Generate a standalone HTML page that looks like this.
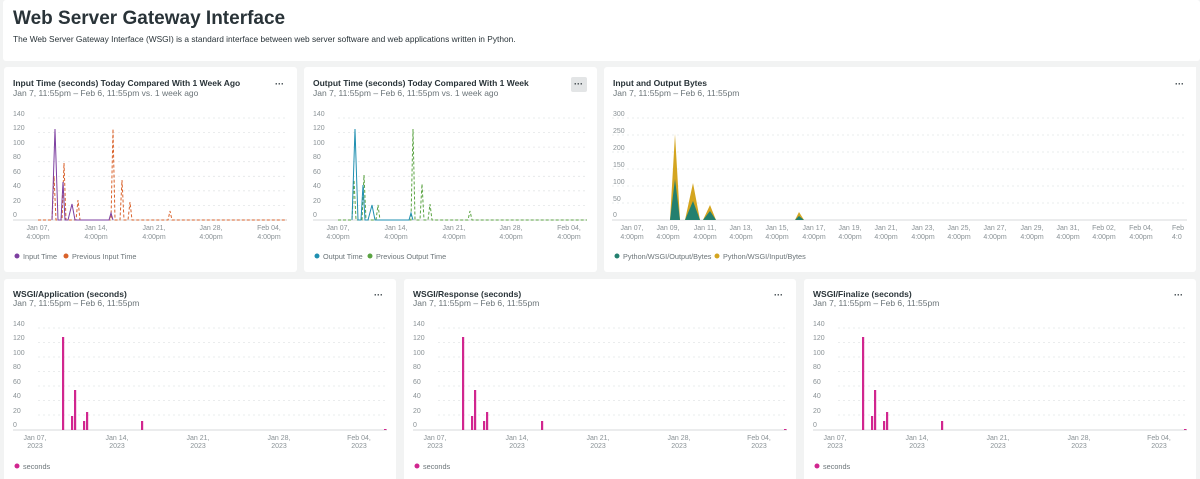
<!DOCTYPE html>
<html><head><meta charset="utf-8"><style>
body{margin:0;width:1200px;height:479px;overflow:hidden;background:#f2f3f3;font-family:"Liberation Sans",sans-serif}
svg{display:block}
.t{font-size:8.5px;font-weight:bold;fill:#293338}
.s{font-size:8.5px;fill:#6b7478}
.ax{font-size:7px;fill:#8a9296}
.lg{font-size:7.3px;fill:#6b7478}
.g{stroke:#e4e6e7;stroke-width:0.8;stroke-dasharray:2,3}
.b{stroke:#d7dadb;stroke-width:1}
</style></head><body>
<svg width="1200" height="479" viewBox="0 0 1200 479">
<rect x="3" y="0" width="1197" height="61" fill="#fff" rx="3"/>
<text x="13" y="24" style="font-size:19px;font-weight:bold;fill:#293338">Web Server Gateway Interface</text>
<text x="13" y="42" style="font-size:8.35px;fill:#293338">The Web Server Gateway Interface (WSGI) is a standard interface between web server software and web applications written in Python.</text>

<rect x="4" y="67" width="293" height="205" fill="#fff" rx="3"/>
<rect x="304" y="67" width="293" height="205" fill="#fff" rx="3"/>
<rect x="604" y="67" width="592" height="205" fill="#fff" rx="3"/>
<rect x="4" y="279" width="392" height="205" fill="#fff" rx="3"/>
<rect x="404" y="279" width="392" height="205" fill="#fff" rx="3"/>
<rect x="804" y="279" width="392" height="205" fill="#fff" rx="3"/>

<!-- Chart 1 -->
<text class="t" x="13" y="86">Input Time (seconds) Today Compared With 1 Week Ago</text>
<text class="s" x="13" y="96">Jan 7, 11:55pm – Feb 6, 11:55pm vs. 1 week ago</text>
<text x="275" y="87" style="font-size:9px;fill:#293338;font-weight:bold">···</text>
<g id="ax1">
<line class="g" x1="38" x2="287" y1="118" y2="118"/><line class="g" x1="38" x2="287" y1="132.5" y2="132.5"/><line class="g" x1="38" x2="287" y1="147.1" y2="147.1"/><line class="g" x1="38" x2="287" y1="161.7" y2="161.7"/><line class="g" x1="38" x2="287" y1="176.3" y2="176.3"/><line class="g" x1="38" x2="287" y1="190.8" y2="190.8"/><line class="g" x1="38" x2="287" y1="205.4" y2="205.4"/>
<line class="b" x1="13" x2="287" y1="220" y2="220"/>
<text class="ax" x="13" y="116">140</text><text class="ax" x="13" y="130">120</text><text class="ax" x="13" y="145">100</text><text class="ax" x="13" y="159">80</text><text class="ax" x="13" y="174">60</text><text class="ax" x="13" y="188">40</text><text class="ax" x="13" y="203">20</text><text class="ax" x="13" y="217">0</text>
<g text-anchor="middle" class="ax"><text x="38" y="230">Jan 07,</text><text x="38" y="239">4:00pm</text><text x="96" y="230">Jan 14,</text><text x="96" y="239">4:00pm</text><text x="154" y="230">Jan 21,</text><text x="154" y="239">4:00pm</text><text x="211" y="230">Jan 28,</text><text x="211" y="239">4:00pm</text><text x="269" y="230">Feb 04,</text><text x="269" y="239">4:00pm</text></g>
</g>
<polyline fill="none" stroke="#d9622b" stroke-width="1" stroke-dasharray="3,2" points="38,220 52,220 54,176 56,220 62,220 64,163 66,220 76,220 78,200 80,220 111,220 113,129 115,220 120,220 122,180 124,220 128,220 130,202 132,220 168,220 170,211 172,220 287,220"/>
<polyline fill="none" stroke="#7d3fa0" stroke-width="1" points="52,220 55,129 58,220 61,220 63,182 65,220 68,220 72,204 75,220 109,220 111,213 113,220"/>
<circle cx="17" cy="256" r="2.5" fill="#7d3fa0"/><text class="lg" x="23" y="259">Input Time</text>
<circle cx="66" cy="256" r="2.5" fill="#d9622b"/><text class="lg" x="72" y="259">Previous Input Time</text>

<!-- Chart 2 -->
<text class="t" x="313" y="86">Output Time (seconds) Today Compared With 1 Week</text>
<text class="s" x="313" y="96">Jan 7, 11:55pm – Feb 6, 11:55pm vs. 1 week ago</text>
<rect x="571" y="77" width="16" height="15" rx="2" fill="#e3e5e6"/>
<text x="574" y="87" style="font-size:9px;fill:#293338;font-weight:bold">···</text>
<use href="#ax1" x="300"/>
<polyline fill="none" stroke="#5aa342" stroke-width="1" stroke-dasharray="3,2" points="338,220 352,220 354,180 356,220 362,220 364,175 366,220 376,220 378,205 380,220 411,220 413,129 415,220 420,220 422,184 424,220 428,220 430,204 432,220 468,220 470,211 472,220 587,220"/>
<polyline fill="none" stroke="#1f8fb0" stroke-width="1" points="352,220 355,129 358,220 361,220 363,185 365,220 368,220 372,205 375,220 409,220 411,213 413,220"/>
<circle cx="317" cy="256" r="2.5" fill="#1f8fb0"/><text class="lg" x="323" y="259">Output Time</text>
<circle cx="370" cy="256" r="2.5" fill="#5aa342"/><text class="lg" x="376" y="259">Previous Output Time</text>

<!-- Chart 3 -->
<text class="t" x="613" y="86">Input and Output Bytes</text>
<text class="s" x="613" y="96">Jan 7, 11:55pm – Feb 6, 11:55pm</text>
<text x="1175" y="87" style="font-size:9px;fill:#293338;font-weight:bold">···</text>
<g>
<line class="g" x1="612" x2="1187" y1="118" y2="118"/><line class="g" x1="612" x2="1187" y1="135" y2="135"/><line class="g" x1="612" x2="1187" y1="152" y2="152"/><line class="g" x1="612" x2="1187" y1="169" y2="169"/><line class="g" x1="612" x2="1187" y1="186" y2="186"/><line class="g" x1="612" x2="1187" y1="203" y2="203"/>
<line class="b" x1="612" x2="1187" y1="220" y2="220"/>
<text class="ax" x="613" y="116">300</text><text class="ax" x="613" y="133">250</text><text class="ax" x="613" y="150">200</text><text class="ax" x="613" y="167">150</text><text class="ax" x="613" y="184">100</text><text class="ax" x="613" y="201">50</text><text class="ax" x="613" y="217">0</text>
<g text-anchor="middle" class="ax">
<text x="632" y="230">Jan 07,</text><text x="632" y="239">4:00pm</text>
<text x="668" y="230">Jan 09,</text><text x="668" y="239">4:00pm</text>
<text x="705" y="230">Jan 11,</text><text x="705" y="239">4:00pm</text>
<text x="741" y="230">Jan 13,</text><text x="741" y="239">4:00pm</text>
<text x="777" y="230">Jan 15,</text><text x="777" y="239">4:00pm</text>
<text x="814" y="230">Jan 17,</text><text x="814" y="239">4:00pm</text>
<text x="850" y="230">Jan 19,</text><text x="850" y="239">4:00pm</text>
<text x="886" y="230">Jan 21,</text><text x="886" y="239">4:00pm</text>
<text x="923" y="230">Jan 23,</text><text x="923" y="239">4:00pm</text>
<text x="959" y="230">Jan 25,</text><text x="959" y="239">4:00pm</text>
<text x="995" y="230">Jan 27,</text><text x="995" y="239">4:00pm</text>
<text x="1032" y="230">Jan 29,</text><text x="1032" y="239">4:00pm</text>
<text x="1068" y="230">Jan 31,</text><text x="1068" y="239">4:00pm</text>
<text x="1104" y="230">Feb 02,</text><text x="1104" y="239">4:00pm</text>
<text x="1141" y="230">Feb 04,</text><text x="1141" y="239">4:00pm</text>
</g>
<text class="ax" x="1172" y="230">Feb</text><text class="ax" x="1172" y="239">4:0</text>
<rect x="1187" y="67" width="9" height="180" fill="#fff"/>
</g>
<polygon fill="#d4a520" points="670,220 675,134 680,220 685,220 693,183 700,220 703,220 710,205 716,220 795,220 799,212 804,220"/>
<polygon fill="#23806f" points="670,220 675,179 680,220 685,220 693,201 700,220 703,220 710,211 716,220 795,220 799,216 804,220"/>
<circle cx="617" cy="256" r="2.5" fill="#23806f"/><text class="lg" x="623" y="259">Python/WSGI/Output/Bytes</text>
<circle cx="717" cy="256" r="2.5" fill="#d4a520"/><text class="lg" x="723" y="259">Python/WSGI/Input/Bytes</text>

<!-- Row 2 -->
<g id="r2">
<text class="t" x="13" y="297">WSGI/Application (seconds)</text>
<text class="s" x="13" y="306">Jan 7, 11:55pm – Feb 6, 11:55pm</text>
<text x="374" y="298" style="font-size:9px;fill:#293338;font-weight:bold">···</text>
<line class="g" x1="38" x2="387" y1="328" y2="328"/><line class="g" x1="38" x2="387" y1="342.5" y2="342.5"/><line class="g" x1="38" x2="387" y1="357" y2="357"/><line class="g" x1="38" x2="387" y1="371.5" y2="371.5"/><line class="g" x1="38" x2="387" y1="386" y2="386"/><line class="g" x1="38" x2="387" y1="400.5" y2="400.5"/><line class="g" x1="38" x2="387" y1="415" y2="415"/>
<line class="b" x1="13" x2="387" y1="430" y2="430"/>
<text class="ax" x="13" y="326">140</text><text class="ax" x="13" y="340">120</text><text class="ax" x="13" y="355">100</text><text class="ax" x="13" y="369">80</text><text class="ax" x="13" y="384">60</text><text class="ax" x="13" y="398">40</text><text class="ax" x="13" y="413">20</text><text class="ax" x="13" y="427">0</text>
<g text-anchor="middle" class="ax"><text x="35" y="440">Jan 07,</text><text x="35" y="448">2023</text><text x="117" y="440">Jan 14,</text><text x="117" y="448">2023</text><text x="198" y="440">Jan 21,</text><text x="198" y="448">2023</text><text x="279" y="440">Jan 28,</text><text x="279" y="448">2023</text><text x="359" y="440">Feb 04,</text><text x="359" y="448">2023</text></g>
<g fill="#d1268f"><rect x="62" y="337" width="2.2" height="93"/><rect x="71" y="416" width="2.2" height="14"/><rect x="74" y="390" width="2.2" height="40"/><rect x="83" y="421" width="2.2" height="9"/><rect x="86" y="412" width="2.2" height="18"/><rect x="141" y="421" width="2.2" height="9"/><rect x="384" y="429" width="2.5" height="1"/></g>
<circle cx="17" cy="466" r="2.5" fill="#d1268f"/><text class="lg" x="23" y="469">seconds</text>
</g>
<use href="#r2" x="400"/>
<use href="#r2" x="800"/>
<rect x="412" y="286" width="200" height="24" fill="#fff"/>
<rect x="812" y="286" width="200" height="24" fill="#fff"/>
<text class="t" x="413" y="297">WSGI/Response (seconds)</text>
<text class="s" x="413" y="306">Jan 7, 11:55pm – Feb 6, 11:55pm</text>
<text class="t" x="813" y="297">WSGI/Finalize (seconds)</text>
<text class="s" x="813" y="306">Jan 7, 11:55pm – Feb 6, 11:55pm</text>
</svg>
</body></html>
